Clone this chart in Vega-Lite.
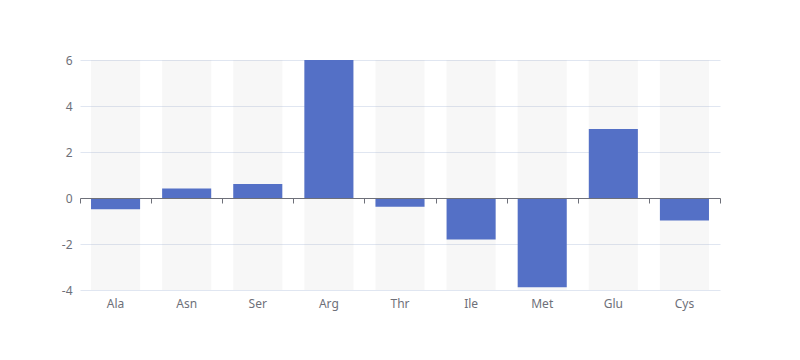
{
  "$schema": "https://vega.github.io/schema/vega-lite/v6.json",
  "autosize": {"type": "none"},
  "width": 640,
  "height": 230,
  "padding": {"left": 80, "top": 60, "right": 80, "bottom": 70},
  "background": "white",
  "config": {
    "view": {"stroke": null},
    "font": "Noto Sans",
    "axis": {"labelColor": "#6E7079", "labelFontSize": 12, "labelFont": "Noto Sans"}
  },
  "data": {
    "values": [
      {"aa": "Ala", "value": -0.49},
      {"aa": "Asn", "value": 0.41},
      {"aa": "Ser", "value": 0.61},
      {"aa": "Arg", "value": 6},
      {"aa": "Thr", "value": -0.38},
      {"aa": "Ile", "value": -1.8},
      {"aa": "Met", "value": -3.88},
      {"aa": "Glu", "value": 3},
      {"aa": "Cys", "value": -0.98}
    ]
  },
  "resolve": {"axis": {"x": "independent"}},
  "layer": [
    {
      "mark": {"type": "bar", "color": "#b4b4b4", "opacity": 0.1},
      "encoding": {
        "x": {
          "field": "aa", "type": "nominal", "sort": null,
          "scale": {"paddingInner": 0.31, "paddingOuter": 0.155},
          "axis": {"orient": "bottom", "title": null, "domain": false, "ticks": false, "labelAngle": 0, "labelPadding": 8, "grid": false}
        },
        "y": {
          "datum": 6, "type": "quantitative",
          "scale": {"domain": [-4, 6], "nice": false, "zero": false},
          "axis": {"title": null, "values": [-4, -2, 0, 2, 4, 6], "labelExpr": "toString(datum.value)", "domain": false, "ticks": false, "labelPadding": 8, "grid": true, "gridColor": "#E0E6F1", "gridWidth": 1}
        },
        "y2": {"datum": -4}
      }
    },
    {
      "mark": {"type": "bar", "color": "#5470c6"},
      "encoding": {
        "x": {
          "field": "aa", "type": "nominal", "sort": null,
          "axis": {"orient": "bottom", "offset": -92, "zindex": 1, "title": null, "labels": false, "domain": true, "domainColor": "#6E7079", "ticks": true, "tickColor": "#6E7079", "tickSize": 5, "bandPosition": 1, "tickOffset": 11.02, "tickExtra": false, "grid": false}
        },
        "y": {"field": "value", "type": "quantitative"}
      }
    },
    {
      "mark": {"type": "bar", "opacity": 0},
      "encoding": {
        "x": {
          "field": "aa", "type": "nominal", "sort": null,
          "axis": {"orient": "bottom", "offset": -92, "zindex": 1, "title": null, "labels": false, "domain": false, "values": ["Ala"], "ticks": true, "tickColor": "#6E7079", "tickSize": 5, "bandPosition": 0, "tickOffset": -11.02, "grid": false}
        },
        "y": {"field": "value", "type": "quantitative"}
      }
    }
  ]
}
